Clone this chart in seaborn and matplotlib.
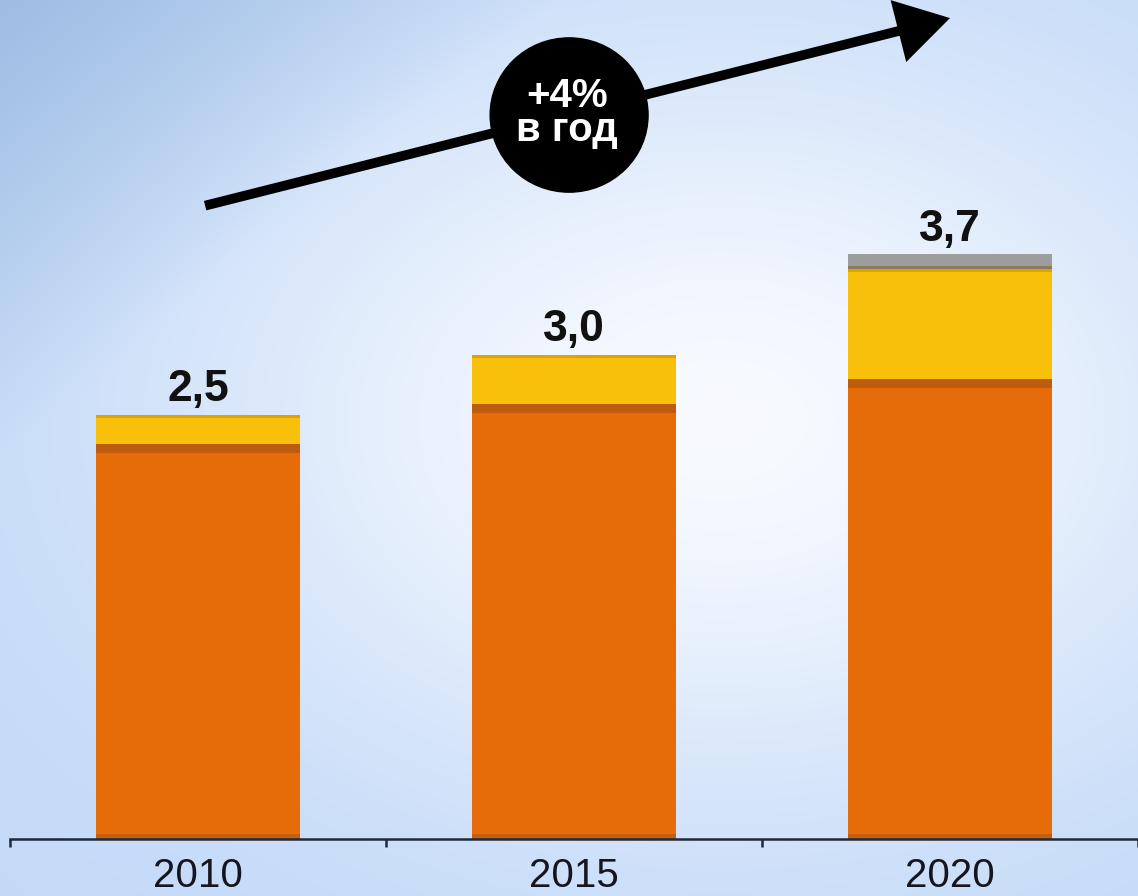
import numpy as np
import matplotlib
matplotlib.use("Agg")
import matplotlib.pyplot as plt
import seaborn as sns
from matplotlib.patches import Ellipse, FancyArrowPatch

# -------- данные --------
years = ["2010", "2015", "2020"]
orange_part = [2.43, 2.68, 2.83]
yellow_part = [0.18, 0.30, 0.68]
gray_part = [0.00, 0.00, 0.09]
total_labels = ["2,5", "3,0", "3,7"]
growth_text = "+4%\nв год"

sns.set_style("white")
plt.rcParams['font.family'] = ['Liberation Sans', 'DejaVu Sans']

orange = np.array(orange_part)
yellow = np.array(yellow_part)
gray = np.array(gray_part)
lvl1 = orange
lvl2 = orange + yellow
lvl3 = lvl2 + gray

W, H = 1138, 896
fig = plt.figure(figsize=(W / 100, H / 100), dpi=100)

# -------- фон (голубой градиент) --------
bg = fig.add_axes([0, 0, 1, 1], zorder=0)
yy, xx = np.mgrid[0:H, 0:W].astype(float)
edge = np.array([0.76, 0.85, 0.97])
white = np.array([0.97, 0.98, 1.0])
t = np.exp(-(((xx - 720) / 540) ** 2 + ((yy - 420) / 380) ** 2))
img = edge * (1 - t[..., None]) + white * t[..., None]
d = np.clip(1 - (xx / 560 + yy / 460), 0, 1)[..., None]
img = img * (1 - d) + np.array([0.62, 0.74, 0.89]) * d
bg.imshow(img, extent=[0, W, H, 0], aspect='auto')
bg.axis('off')

# -------- основной график --------
ax = fig.add_axes([10 / W, 57 / H, 1128 / W, 839 / H], zorder=1)
ax.patch.set_alpha(0)
bw = 0.54

sns.barplot(x=years, y=lvl3, color='#9c9e9e', width=bw, saturation=1,
            linewidth=0, errorbar=None, ax=ax)
sns.barplot(x=years, y=lvl2, color='#F9C00B', width=bw, saturation=1,
            linewidth=0, errorbar=None, ax=ax)
sns.barplot(x=years, y=lvl1, color='#E66C0A', width=bw, saturation=1,
            linewidth=0, errorbar=None, ax=ax)

# тёмные кромки сегментов
pos = np.arange(len(years))
ax.bar(pos, 0.055, bottom=lvl1 - 0.055, width=bw, color='#BD5B0E', linewidth=0)
ax.bar(pos, 0.03, bottom=0, width=bw, color='#C45E10', linewidth=0)
ax.bar(pos, 0.02, bottom=lvl2 - 0.02, width=bw, color='#D9A404', linewidth=0)
has_gray = gray > 0
ax.bar(pos[has_gray], 0.02, bottom=lvl2[has_gray], width=bw, color='#8a7b5a', linewidth=0)

for i, lab in enumerate(total_labels):
    ax.text(pos[i], lvl3[i] + 0.085, lab, ha='center', va='baseline',
            fontsize=32, fontweight='bold', color='#111111')

ax.set_xlim(-0.5, 2.5)
ax.set_ylim(0, 839 / 162.4)
ax.set_xlabel("")
ax.set_ylabel("")
ax.set_yticks([])
ax.set_xticks(pos)
ax.set_xticklabels(years, fontsize=29, color='#15151f')
ax.set_xticks([-0.5, 0.5, 1.5, 2.5], minor=True)
ax.tick_params(axis='x', which='major', bottom=False, length=0, pad=13)
ax.tick_params(axis='x', which='minor', bottom=True, length=6, width=1.8,
               color='#1f2a3a', direction='out')
for s in ['top', 'right', 'left']:
    ax.spines[s].set_visible(False)
ax.spines['bottom'].set_color('#1f2a3a')
ax.spines['bottom'].set_linewidth(1.8)

# -------- стрелка роста и кружок --------
arrow = FancyArrowPatch((0.019, 3.90), (2.0, 5.055),
                        arrowstyle='-|>,head_length=1.0,head_width=0.6',
                        mutation_scale=28, lw=7, color='black',
                        shrinkA=0, shrinkB=0, clip_on=False, zorder=5,
                        capstyle='butt', joinstyle='miter')
ax.add_patch(arrow)
ax.add_patch(Ellipse((0.987, 4.458), 0.42, 0.95, color='black', zorder=6, clip_on=False))
ax.text(0.982, 4.47, growth_text, ha='center', va='center', fontsize=29,
        fontweight='bold', color='white', linespacing=0.88, zorder=7)

fig.savefig("out.png", dpi=100)
